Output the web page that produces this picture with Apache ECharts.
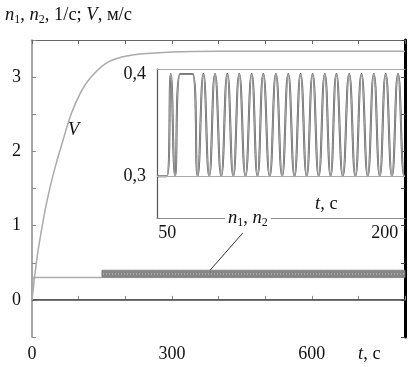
<!DOCTYPE html>
<html><head><meta charset="utf-8">
<script src="https://cdn.jsdelivr.net/npm/echarts@6/dist/echarts.min.js"></script>
<style>html,body{margin:0;padding:0;background:#fff}#c{width:413px;height:367px}</style>
</head><body><div id="c"></div>
<script>
// ---- data ----
const vCurve = [[0,0],[5,0.28],[12,0.62],[21,0.96],[31,1.3],[46,1.7],[66,2.14],[85,2.52],[105,2.8],[124,2.98],[157,3.18],[193,3.27],[230,3.31],[300,3.34],[400,3.35],[800,3.35]];
const nStart = [[0,0],[2,0.3],[150,0.3]];
// dense n1/n2 oscillation in the main plot: a band from t=150 to t=800 between 0.3 and 0.4
const bandT = [150, 800];
const bandN = [0.3, 0.4];
const zeroLine = [[0,0],[800,0]];
const insetN = [[43,.3],[49.8,.3],[52.5,.4],[55.5,.3],[59,.4],[67.5,.4],[71,.3],[75,.4],[79,.3],[83,.4],[87.3,.3],[91.5,.4],[95.6,.3],[99.7,.4],[104,.3],[108.3,.4],[112.3,.3],[116.3,.4],[120.7,.3],[125,.4],[129.3,.3],[133.5,.4],[137.8,.3],[142,.4],[146.2,.3],[150.3,.4],[154.5,.3],[158.7,.4],[162.7,.3],[166.7,.4],[171.1,.3],[175.5,.4],[179.8,.3],[184,.4],[188.3,.3],[192.5,.4],[196.6,.3],[200.7,.4],[205,.3],[209.2,.4],[213.5,.3],[214,.3]];
const mainXLabels = [0,300,600];
const mainYLabels = [0,1,2,3];
const insetXLabels = [50,200];
const insetYLabels = [0.3,0.4];
const insetBase = 0.3;

const SERIF = 'Liberation Serif';
const rich = {
  r: {fontFamily:SERIF, fontSize:18.5, color:'#111', lineHeight:21},
  i: {fontFamily:SERIF, fontSize:18.5, fontStyle:'italic', color:'#111', lineHeight:21},
  s: {fontFamily:SERIF, fontSize:12, color:'#111', verticalAlign:'bottom', lineHeight:12}
};
function lbl(text, left, top, extra){
  return Object.assign({text, left, top, padding:0, itemGap:0,
    textStyle:{rich, fontFamily:SERIF, fontSize:18, fontWeight:'normal', color:'#111'}}, extra||{});
}
// hatch pattern for the dense band
const pat = document.createElement('canvas');
pat.width = 3; pat.height = 4;
(function(){const g = pat.getContext('2d'); g.fillStyle = '#858585'; g.fillRect(0,0,3,4); g.fillStyle = '#a8a8a8'; g.fillRect(1,1,1,2);})();

const chart = echarts.init(document.getElementById('c'), null, {renderer:'canvas'});
const axisTxt = {fontFamily:SERIF, fontSize:18, color:'#111'};
chart.setOption({
  animation:false,
  backgroundColor:'#fff',
  title:[
    lbl('{i|n}{s|1}{r|, }{i|n}{s|2}{r|, 1/с; }{i|V}{r|, м/с}', 5, 5),
    lbl('{i|V}', 68, 120),
    lbl('{i|t}{r|, с}', 358, 344),
    lbl('{i|t}{r|, с}', 315, 194),
    lbl('{i|n}{s|1}{r|, }{i|n}{s|2}', 225, 208, {backgroundColor:'#fff', padding:[0,3,2,3]})
  ],
  grid:[
    {left:32, top:40, right:8, bottom:30},
    {left:157, top:69, right:8, bottom:149}
  ],
  xAxis:[
    {gridIndex:0, type:'value', min:0, max:800, interval:100,
      axisLine:{lineStyle:{color:'#888', width:1.5}},
      axisTick:{inside:true, length:4, lineStyle:{color:'#888'}},
      axisLabel:{...axisTxt, margin:8, formatter:v=>mainXLabels.includes(v)?String(v):''},
      splitLine:{show:false}},
    {gridIndex:0, type:'value', position:'top', min:0, max:800, interval:100,
      axisLine:{onZero:false, lineStyle:{color:'#666', width:1.2}},
      axisTick:{inside:true, length:4, lineStyle:{color:'#666'}},
      axisLabel:{show:false}, splitLine:{show:false}},
    {gridIndex:1, type:'value', min:43, max:214,
      axisLine:{onZero:false, lineStyle:{color:'#888', width:1.2}},
      axisTick:{show:false},
      axisLabel:{...axisTxt, margin:6, customValues:insetXLabels, formatter:v=>String(v)},
      splitLine:{show:false}},
    {gridIndex:1, type:'value', position:'top', min:43, max:214,
      axisLine:{onZero:false, lineStyle:{color:'#aaa', width:1.2}},
      axisTick:{show:false}, axisLabel:{show:false}, splitLine:{show:false}}
  ],
  yAxis:[
    {gridIndex:0, type:'value', min:-0.5, max:3.5, interval:0.5,
      axisLine:{show:true, onZero:false, lineStyle:{color:'#888', width:1.5}},
      axisTick:{show:true, inside:true, length:4, lineStyle:{color:'#888'}},
      axisLabel:{...axisTxt, margin:11, formatter:v=>mainYLabels.includes(v)?String(v):''},
      splitLine:{show:false}},
    {gridIndex:0, type:'value', position:'right', min:-0.5, max:3.5, interval:0.5,
      axisLine:{show:true, onZero:false, lineStyle:{color:'#000', width:3}},
      axisTick:{show:true, inside:true, length:4, lineStyle:{color:'#444'}},
      axisLabel:{show:false}, splitLine:{show:false}},
    {gridIndex:1, type:'value', min:0.259, max:0.405,
      axisLine:{show:true, onZero:false, lineStyle:{color:'#555', width:1.2}},
      axisTick:{show:false},
      axisLabel:{...axisTxt, margin:11, customValues:insetYLabels, formatter:v=>String(v).replace('.',',')},
      splitLine:{show:false}}
  ],
  series:[
    {type:'line', xAxisIndex:0, yAxisIndex:0, data:zeroLine, symbol:'none', lineStyle:{color:'#444', width:1.2}, z:2},
    {type:'line', xAxisIndex:0, yAxisIndex:0, data:vCurve, symbol:'none', smooth:0.4, lineStyle:{color:'#aaa', width:1.5}, z:3},
    {type:'line', xAxisIndex:0, yAxisIndex:0, data:nStart, symbol:'none', lineStyle:{color:'#aaa', width:1.5}, z:3,
      markArea:{silent:true, itemStyle:{color:{image:pat, repeat:'repeat'}, borderColor:'#777', borderWidth:0.8},
        data:[[{xAxis:bandT[0], yAxis:bandN[0]},{xAxis:bandT[1], yAxis:bandN[1]}]]}},
    {type:'line', xAxisIndex:2, yAxisIndex:2, data:insetN, symbol:'none', smooth:0.5, lineStyle:{color:'#5a5a5a', width:2}, z:4,
      markLine:{silent:true, symbol:'none', label:{show:false}, lineStyle:{color:'#aaa', width:1.2, type:'solid'}, data:[{yAxis:insetBase}]}},
    {type:'line', xAxisIndex:2, yAxisIndex:2, data:insetN, symbol:'none', smooth:0.5, lineStyle:{color:'#c8c8c8', width:0.7}, z:5}
  ]
});
// leader line from the n1, n2 label to the band
const p1 = chart.convertToPixel({xAxisIndex:0, yAxisIndex:0}, [452, 0.9]);
const p2 = chart.convertToPixel({xAxisIndex:0, yAxisIndex:0}, [382, 0.4]);
chart.setOption({graphic:[{type:'line', z:100, shape:{x1:p1[0], y1:p1[1], x2:p2[0], y2:p2[1]}, style:{stroke:'#333', lineWidth:1}}]});
</script></body></html>
